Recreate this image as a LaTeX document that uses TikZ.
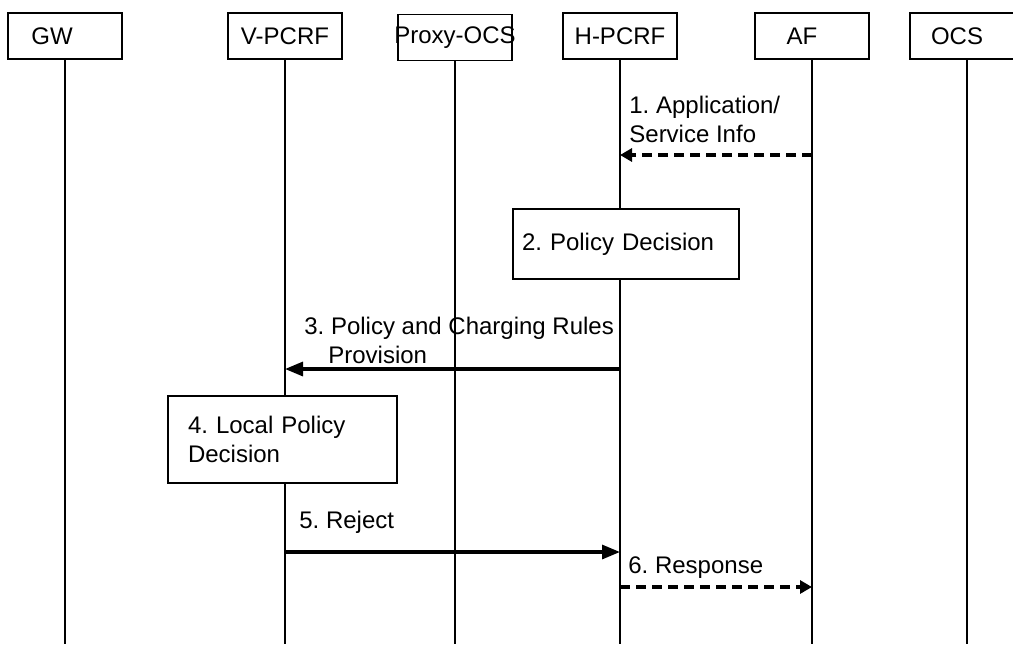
\documentclass[tikz,border=0pt]{standalone}
\usepackage{fontspec}
\setmainfont{Liberation Sans}
\usetikzlibrary{arrows.meta}
\frenchspacing

\begin{document}
\begin{tikzpicture}[x=0.5pt, y=-0.5pt,
	every node/.style={font=\fontsize{12}{14.5}\selectfont},
	entity/.style={draw, line width=0.9pt, minimum width=57pt, minimum height=23pt, inner sep=0pt},
	life/.style={line width=0.9pt},
	procbox/.style={draw, fill=white, line width=0.9pt, align=left},
	msg/.style={line width=1.6pt, -{Triangle[length=9pt,width=7pt]}},
	msgdash/.style={line width=1.6pt, dash pattern=on 5pt off 3pt, -{Triangle[length=6pt,width=6.5pt]}},
	msglabel/.style={anchor=north west, align=left, inner sep=0pt}]
			\useasboundingbox (0,0) rectangle (1013,644);
			\clip (0,0) rectangle (1013,644);
			
			\node[entity] (GW) at (65,36) {GW\hspace*{13pt}};
			\node[entity] (VPCRF) at (285,36) {V-PCRF};
			\node[entity] (POCS) at (455,37.5) {\makebox[50pt]{Proxy-OCS}};
			\node[entity] (HPCRF) at (620,36) {H-PCRF};
			\node[entity] (AF) at (812,36) {AF\hspace*{10pt}};
			\node[entity] (OCS) at (967,36) {OCS\hspace*{10pt}};
			
			\coordinate (bot) at (0,644);
			\draw[life] (GW)--(GW |- bot);
			\draw[life] (VPCRF)--(VPCRF |- bot);
			\draw[life] (POCS)--(POCS |- bot);
			\draw[life] (HPCRF)--(HPCRF |- bot);
			\draw[life] (AF)--(AF |- bot);
			\draw[life] (OCS)--(OCS |- bot);
			
			\node[procbox, minimum width=113pt, minimum height=35pt, text width=104pt, inner xsep=4.5pt] (pdec) at (626,244) {2. Policy Decision};
			\node[procbox, minimum width=114.5pt, minimum height=43.5pt, text width=94.5pt, inner xsep=10pt] (ldec) at (282.5,439.5) {4. Local Policy\\Decision};
			
			\coordinate (r1) at (0,155);
			\coordinate (r3) at (0,369);
			\coordinate (r5) at (0,552);
			\coordinate (r6) at (0,587);
			
			\draw[msgdash] (AF |- r1)--(HPCRF |- r1);
			\node[msglabel] (l1) at (629,96) {1. Application/\\Service Info};
			
			\draw[msg] (HPCRF |- r3)--(VPCRF |- r3);
			\node[msglabel] (l3) at (304,317) {3. Policy and Charging Rules\\\hspace*{12pt}Provision};
			
			\draw[msg] (VPCRF |- r5)--(HPCRF |- r5);
			\node[msglabel] (l5) at (299,511) {5. Reject};
			
			\draw[msgdash] (HPCRF |- r6)--(AF |- r6);
			\node[msglabel] (l6) at (628,556) {6. Response};
			
		\end{tikzpicture}
\end{document}
